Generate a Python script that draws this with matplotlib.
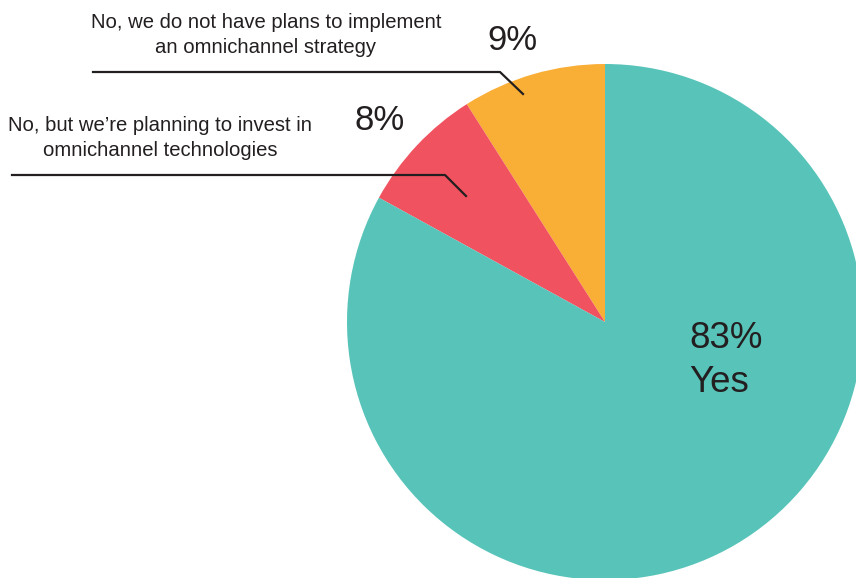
import matplotlib
matplotlib.use("Agg")
import matplotlib.pyplot as plt

labels = ["No, we do not have plans to implement\nan omnichannel strategy",
          "No, but we\u2019re planning to invest in\nomnichannel technologies",
          "Yes"]
values = [9, 8, 83]
pct_labels = ["9%", "8%", "83%"]
colors = ["#F9AE36", "#F0525F", "#58C4B9"]

plt.rcParams['font.family'] = ['Liberation Sans', 'DejaVu Sans']
W, H = 856, 578
fig = plt.figure(figsize=(W / 100, H / 100), dpi=100)
ax = fig.add_axes([0, 0, 1, 1])
ax.pie(values, colors=colors, startangle=90, counterclock=True,
       center=(605, H - 322), radius=258, frame=True,
       wedgeprops=dict(linewidth=0))
ax.set_xlim(0, W)
ax.set_ylim(0, H)
ax.set_aspect('equal')
ax.axis('off')

txt = "#231F20"
# Yes label
ax.text(689, H - 338, pct_labels[2], fontsize=26.5, color=txt, ha='left', va='center')
ax.text(689, H - 382, labels[2], fontsize=26.5, color=txt, ha='left', va='center')
# 9%
ax.text(512, H - 40, pct_labels[0], fontsize=25, color=txt, ha='center', va='center')
ax.text(266, H - 35, labels[0], fontsize=14.6, color=txt, ha='center', va='center',
        linespacing=1.45)
ax.plot([93, 500, 523], [H - 72, H - 72, H - 94], color=txt, lw=1.6)
# 8%
ax.text(380, H - 121, pct_labels[1], fontsize=25, color=txt, ha='center', va='center')
ax.text(160, H - 138, labels[1], fontsize=14.6, color=txt, ha='center', va='center',
        linespacing=1.45)
ax.plot([12, 445, 466], [H - 175, H - 175, H - 196], color=txt, lw=1.6)

fig.savefig("out.png", dpi=100)
